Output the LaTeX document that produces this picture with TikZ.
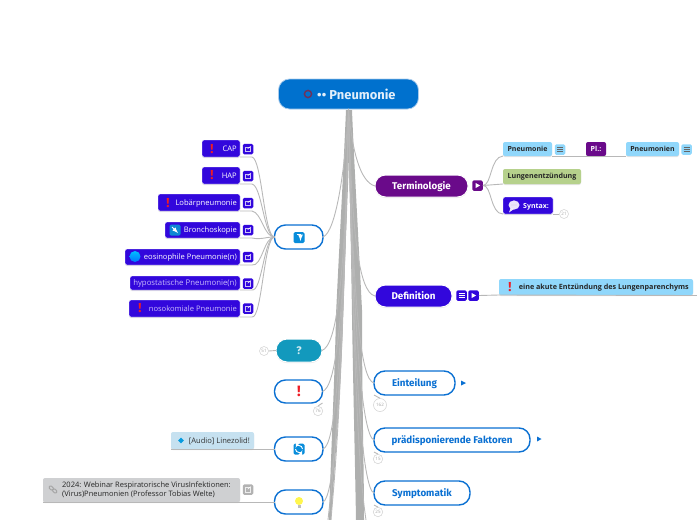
\documentclass[tikz,border=0pt]{standalone}
\usepackage{fontspec}
\setsansfont{Fira Sans}
\newfontfamily\smallfont{Open Sans}
\usetikzlibrary{shadows,shapes.geometric}
\definecolor{indigo}{HTML}{3207DC}
\definecolor{plum}{HTML}{6A0A8A}
\definecolor{blueb}{HTML}{0A70D2}
\definecolor{rootb}{HTML}{0071CE}
\definecolor{teal}{HTML}{1299BD}
\definecolor{skyb}{HTML}{90D7FB}
\definecolor{palebl}{HTML}{C6E1F0}
\definecolor{greenb}{HTML}{B6D18C}
\definecolor{greyb}{HTML}{CFD0D2}
\definecolor{trunkc}{HTML}{AEAFAE}
\definecolor{linec}{HTML}{B8B8B8}
\definecolor{lilac}{HTML}{C9BBFA}
\definecolor{redmark}{HTML}{EE1C25}
\tikzset{
  base/.style={inner sep=0pt,outer sep=0pt,rounded corners=2pt},
  shade1/.style={drop shadow={shadow xshift=0pt,shadow yshift=-1pt,opacity=.22}},
  pill/.style={base,fill=indigo,draw=white,line width=.4pt,shade1},
  topic/.style={inner sep=0pt,outer sep=0pt,rounded corners=11pt,line width=1.4pt,draw=blueb,fill=white,text=blueb,
     text height=7.5pt,text depth=.5pt,font=\sffamily\bfseries\fontsize{9.8}{12}\selectfont},
  solidtopic/.style={inner sep=0pt,outer sep=0pt,rounded corners=10.5pt,draw=white,line width=1pt,shade1,text=white,
     text height=7.5pt,text depth=.5pt,font=\sffamily\bfseries\fontsize{9.8}{12}\selectfont},
  leaf/.style={base,draw=none,shade1},
  wtxt/.style={inner sep=0pt,text=white,text height=5.5pt,text depth=1.5pt,font=\smallfont\fontsize{7.6}{9}\selectfont},
  dtxt/.style={inner sep=0pt,text=black!85,text height=5.5pt,text depth=1.5pt,font=\smallfont\bfseries\fontsize{7.2}{9}\selectfont},
  iconbox/.style={inner sep=0pt,minimum size=10.5pt,rounded corners=1.5pt},
  wire/.style={draw=linec,line width=.9pt},
  count/.style={circle,draw=black!18,fill=white,line width=.5pt,inner sep=0pt,text=black!35,
     font=\smallfont\fontsize{4.5}{5}\selectfont},
  bang/.style={inner sep=0pt,text=redmark,font=\sffamily\bfseries\fontsize{13}{14}\selectfont},
}
\newcommand\bx[7]{\node[#1,minimum width={(#5-#3)*1pt},minimum height={(#6-#4)*1pt}] (#2) at ({(#3+#5)/2},{(#4+#6)/2}) {#7};}
\newcommand\extbox[4]{\node[iconbox,fill=#4] (#1) at (#2,#3) {};
  \draw[white!75!#4,line width=.5pt] ([xshift=-2.6pt,yshift=-2.6pt]#1.center) rectangle ([xshift=2.2pt,yshift=2.2pt]#1.center);
  \draw[white,line width=.5pt] ([xshift=-.3pt,yshift=.3pt]#1.center) -- ([xshift=3pt,yshift=3pt]#1.center);}
\newcommand\menubox[5]{\node[iconbox,fill=#4] (#1) at (#2,#3) {};
  \foreach \d in {-2.2,0,2.2}{\draw[#5,line width=.6pt] ([xshift=-3pt,yshift=\d pt]#1.center) -- ([xshift=3pt,yshift=\d pt]#1.center);}}
\newcommand\playbox[4]{\node[iconbox,fill=#4] (#1) at (#2,#3) {};
  \fill[white] ([xshift=-2pt,yshift=2.6pt]#1.center) -- ([xshift=2.6pt]#1.center) -- ([xshift=-2pt,yshift=-2.6pt]#1.center) -- cycle;}
\begin{document}
\begin{tikzpicture}[x=1pt,y=-1pt]
\useasboundingbox (0,0) rectangle (697,520);
\coordinate (endA) at (366,520);
\coordinate (endB) at (328,520);
\coordinate (endC) at (331,520);
% main bands of the trunk
\fill[trunkc] (346,110) -- (352,110) .. controls (354,160) and (358,230) .. (362,310)
   .. controls (362,400) and (364,470) .. (364,520) -- (356,520)
   .. controls (355,460) and (353,380) .. (352,315)
   .. controls (351,250) and (350,200) .. (348,110) -- cycle;
\fill[trunkc] (346,110) -- (350,110) .. controls (349,180) and (345,250) .. (343,315)
   .. controls (342,370) and (336,450) .. (331,520) -- (329,520)
   .. controls (331,450) and (335,370) .. (336,315)
   .. controls (339,250) and (343,180) .. (346,110) -- cycle;
\bx{rounded corners=11pt,inner sep=0pt,outer sep=0pt,fill=rootb,draw=black!5!blueb!35,line width=.8pt}{root}{278.5}{79}{418.5}{109}{}
\node[inner sep=0pt,text=white!88!blueb,font=\sffamily\bfseries\fontsize{12.9}{14}\selectfont,anchor=west] (roottext) at (317,94.5) {\textbullet\hspace{.3pt}\textbullet\ Pneumonie};
\draw[draw=red!50!blueb!85!black,line width=1.4pt] (308,94) circle (3.6);
\bx{solidtopic,fill=plum}{term}{375}{175}{468}{197}{Terminologie}
\playbox{termplay}{477.5}{185.5}{plum}
\bx{solidtopic,fill=indigo}{defi}{375}{285}{452}{307}{Definition}
\menubox{defmenu}{461.5}{295.5}{indigo}{white}
\playbox{defplay}{473.5}{295.5}{indigo}
\bx{topic}{eint}{374}{371}{455}{395}{Einteilung}
\bx{topic}{prae}{374}{428}{530}{452}{pr\"adisponierende Faktoren}
\bx{topic}{symp}{374}{481}{470}{505}{Symptomatik}
\bx{topic}{nsub}{274.5}{225}{323}{249}{}
\bx{solidtopic,rounded corners=11pt,fill=teal,font=\sffamily\bfseries\fontsize{11}{12}\selectfont,text=white!80!teal}{nq}{276}{339}{322}{362}{?}
\bx{topic}{nex}{274.5}{380}{322.5}{403}{}
\bx{topic}{nsync}{274.5}{437}{323}{461}{}
\bx{topic}{nbulb}{274.5}{490}{323}{514}{}
\bx{pill}{cap}{202}{140}{240}{157}{}
\bx{pill}{hap}{202}{167}{240}{184}{}
\bx{pill}{lob}{158}{194}{240}{211}{}
\bx{pill}{bro}{165}{222}{240}{238}{}
\bx{pill}{eos}{125}{249}{240}{265}{}
\bx{pill}{hyp}{130}{276}{240}{290}{}
\bx{pill}{nos}{129}{300}{240}{317}{}
\node[wtxt,anchor=east] (captxt) at (237,149) {CAP};
\node[wtxt,anchor=east] (haptxt) at (237,176) {HAP};
\node[wtxt,anchor=east] (lobtxt) at (237,203.5) {Lob\"arpneumonie};
\node[wtxt,anchor=east] (brotxt) at (237,230.5) {Bronchoskopie};
\node[wtxt,anchor=east] (eostxt) at (237,257.5) {eosinophile Pneumonie(n)};
\node[wtxt,text=lilac,anchor=east,font=\smallfont\fontsize{7.8}{9}\selectfont] (hyptxt) at (237,283.5) {hypostatische Pneumonie(n)};
\node[wtxt,text=lilac,anchor=east] (nostxt) at (237,309) {nosokomiale Pneumonie};
\node[bang] (b1) at (212,149) {!};
\node[bang] (b2) at (212,175.5) {!};
\node[bang] (b3) at (168,203) {!};
\node[bang] (b4) at (140,308.5) {!};
\node[iconbox,minimum size=11pt,fill=cyan!70!blue] (broico) at (175,230) {};
\draw[white,line width=1pt,-latex] (172,227) -- (178,233);
\shade[top color=cyan!75!blue,bottom color=blue!55!cyan] (135,256.5) circle (5.5);
\extbox{x1}{248}{149}{indigo}
\extbox{x2}{248}{176}{indigo}
\extbox{x3}{248}{203}{indigo}
\extbox{x4}{248}{230}{indigo}
\extbox{x5}{248}{257}{indigo}
\extbox{x6}{248}{283.5}{indigo}
\extbox{x7}{248}{308.5}{indigo}
\node[iconbox,minimum size=11pt,fill=blueb!80!cyan] (arrowico) at (299,237.5) {};
\draw[white,line width=1.2pt,-latex] (296.5,234.5) -- (300.5,234.5) -- (300.5,241);
\node[bang,font=\sffamily\bfseries\fontsize{15}{16}\selectfont] (bx) at (299,391.5) {!};
\node[iconbox,minimum size=11pt,fill=blueb!80!cyan] (syncico) at (299,449) {};
\draw[white,line width=.9pt,->,>=latex] (295.5,449) arc (180:20:3.5);
\draw[white,line width=.9pt,->,>=latex] (302.5,449) arc (0:-160:3.5);
\fill[yellow!70!white] (299,501) circle (4);
\fill[black!25] (297.5,505) rectangle (300.5,507.5);
\bx{leaf,fill=skyb,text=black!85,font=\smallfont\bfseries\fontsize{7}{9}\selectfont}{pne}{503}{142}{552}{156}{Pneumonie}
\menubox{pnem}{560}{149.5}{skyb}{black!60}
\bx{leaf,fill=plum,text=white,font=\smallfont\bfseries\fontsize{7}{9}\selectfont}{pl}{586}{142}{606}{156}{Pl.:}
\bx{leaf,fill=skyb,text=black!85,font=\smallfont\bfseries\fontsize{7}{9}\selectfont}{pnn}{626}{142}{679}{156}{Pneumonien}
\menubox{pnnm}{686.5}{149.5}{skyb}{black!60}
\bx{leaf,fill=greenb,text=black!85,font=\smallfont\bfseries\fontsize{7.1}{9}\selectfont}{lun}{503}{169}{581}{184}{Lungenentz\"undung}
\bx{pill}{syn}{503}{197}{553}{214}{}
\node[wtxt,font=\smallfont\bfseries\fontsize{7}{9}\selectfont,anchor=west] (syntxt) at (523,206) {Syntax:};
\fill[white,opacity=.9] (514,205) ellipse (5.5 and 4.6);
\fill[white,opacity=.9] (510.5,208) -- (509,212.5) -- (514,209) -- cycle;
\foreach \q in {-2,0,2}{\fill[black!35] (514+\q,205) circle (.45);}
\node[count,minimum size=9pt] (csyn) at (564,214) {21};
\bx{leaf,fill=skyb}{akut}{499}{279}{693}{295}{}
\node[dtxt,anchor=east] (akuttxt) at (689,287.5) {eine akute Entz\"undung des Lungenparenchyms};
\node[bang] (b5) at (510,287) {!};
\bx{leaf,fill=palebl}{aud}{171}{432}{254}{449}{}
\node[wtxt,text=black!80,anchor=east] (audtxt) at (250,441) {[Audio] Linezolid!};
\node[diamond,fill=blueb!70!cyan,inner sep=0pt,minimum size=6pt] (audico) at (181,440.5) {};
\bx{leaf,fill=greyb}{web}{43}{478}{240}{502}{}
\node[inner sep=0pt,text=black!85,anchor=west,align=left,font=\smallfont\fontsize{7.5}{9}\selectfont] (webtxt) at (62,490) {2024: Webinar Respiratorische VirusInfektionen:\\(Virus)Pneumonien (Professor Tobias Welte)};
\draw[black!35,line width=1pt,rounded corners=1pt,rotate around={-40:(53,489.5)}] (48.5,488) rectangle (53,491);
\draw[black!35,line width=1pt,rounded corners=1pt,rotate around={-40:(53,489.5)}] (53,488) rectangle (57.5,491);
\extbox{x8}{248}{489.5}{black!30}
\node[count,minimum size=9pt] (c51) at (264,351) {51};
\node[count,minimum size=9.5pt] (c76) at (318,411) {76};
\node[count,minimum size=13pt] (c162) at (380,405) {162};
\node[count,minimum size=9.5pt] (c15) at (378,459) {15};
\node[count,minimum size=9.5pt] (c25) at (378,512) {25};
\begin{scope}[wire]
\draw (root.south) .. controls (352,150) and (360,182) .. (term.west);
\draw (root.south) .. controls (352,230) and (358,292) .. (defi.west);
\draw (root.south) .. controls (353,300) and (360,380) .. (eint.west);
\draw (root.south) .. controls (353,330) and (362,436) .. (prae.west);
\draw (root.south) .. controls (353,380) and (363,490) .. (symp.west);
\draw (root.south) .. controls (354,400) and (360,480) .. (endA);
\draw (root.south) .. controls (345,170) and (336,232) .. (nsub.east);
\draw (root.south) .. controls (345,290) and (336,345) .. (nq.east);
\draw (root.south) .. controls (345,330) and (335,387) .. (nex.east);
\draw (root.south) .. controls (342,370) and (335,445) .. (nsync.east);
\draw (root.south) .. controls (342,420) and (333,498) .. (nbulb.east);
\draw (root.south) .. controls (342,420) and (331,490) .. (endB);
\draw (root.south) .. controls (342,420) and (334,480) .. (endC);
\foreach \p in {cap,hap,lob,bro,eos,hyp,nos}{
  \draw (\p.south east) -- ++(12,0) .. controls ++(10,2) and (264,237) .. (nsub.west);
}
\draw (termplay.east) .. controls (492,185) and (490,157) .. (pne.south west);
\draw (termplay.east) -- (lun.south west);
\draw (termplay.east) .. controls (492,185) and (490,214) .. (syn.south west);
\draw (syn.south east) -- (csyn.west);
\draw (pne.south east) -- (pnn.south west);
\draw (defplay.east) -- (akut.south west);
\draw (akut.south west) -- (697,295.5);
\draw (c51.east) -- (nq.west);
\draw (nex.south east) -- (c76.north);
\draw (aud.south east) -- (nsync.west);
\draw (aud.south west) -- (aud.south east);
\draw (web.south east) -- (nbulb.west);
\draw (web.south west) -- (web.south east);
\draw (eint.south west) -- (c162.north);
\draw (prae.south west) -- (c15.north);
\draw (symp.south west) -- (c25.north);
\end{scope}
\fill[blueb] (461,380.5) -- (466,383) -- (461,385.5) -- cycle;
\fill[blueb] (537,436.5) -- (541.5,439) -- (537,441.5) -- cycle;
\end{tikzpicture}
\end{document}
